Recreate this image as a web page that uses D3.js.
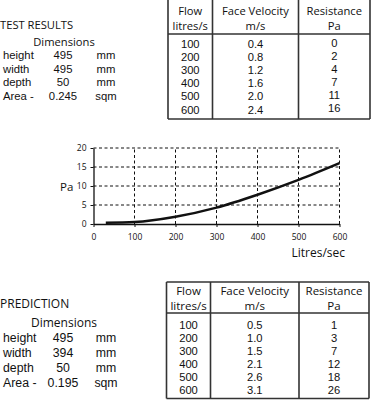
<!DOCTYPE html>
<html><head><meta charset="utf-8">
<script src="https://cdn.jsdelivr.net/npm/d3@7"></script>
<style>
html,body{margin:0;padding:0;background:#fff;}
svg{display:block;font-family:"Open Sans",sans-serif;}
</style></head>
<body>
<svg id="c" width="372" height="402"></svg>
<script>
// ---- data ----
const flows = [100, 200, 300, 400, 500, 600];
const testVelocity = ["0.4", "0.8", "1.2", "1.6", "2.0", "2.4"];
const testResistance = [0, 2, 4, 7, 11, 16];
const predVelocity = ["0.5", "1.0", "1.5", "2.1", "2.6", "3.1"];
const predResistance = [1, 3, 7, 12, 18, 26];
const testDims = [["height", "495", "mm"], ["width", "495", "mm"], ["depth", "50", "mm"], ["Area -", "0.245", "sqm"]];
const predDims = [["height", "495", "mm"], ["width", "394", "mm"], ["depth", "50", "mm"], ["Area -", "0.195", "sqm"]];
const curveFlow = [30, 100, 200, 300, 400, 500, 600];
const curvePa = [0.3, 0.5, 1.9, 4.3, 7.7, 11.6, 16];
const xTicks = [0, 100, 200, 300, 400, 500, 600];
const yTicks = [0, 5, 10, 15, 20];

const svg = d3.select("#c");
const ink = "#111";
const arial = "Liberation Sans, Arial, sans-serif";

function block(o) {
  const g = svg.append("g");
  g.append("text").attr("x", 0).attr("y", o.titleY).attr("font-size", o.fs).attr("fill", ink).text(o.title);
  g.append("text").attr("x", 64).attr("y", o.titleY + o.dimGap).attr("font-size", o.fs).attr("text-anchor", "middle").attr("fill", ink).text("Dimensions");
  o.dims.forEach((d, i) => {
    const y = o.titleY + o.dimGap + o.rowGap * (i + 1);
    const add = (xx, s, anchor) => g.append("text").attr("x", xx).attr("y", y).attr("font-size", o.dfs)
      .attr("font-family", arial).attr("text-anchor", anchor).attr("fill", ink).text(s);
    add(3, d[0], "start");
    add(63, d[1], "middle");
    add(106, d[2], "middle");
  });
  // table
  const t = o.table;
  const cols = [t.x0, t.x1, t.x2, t.x3];
  const lineC = "#333";
  if (t.top != null) g.append("line").attr("x1", t.x0).attr("x2", t.x3).attr("y1", t.top).attr("y2", t.top).attr("stroke", lineC).attr("stroke-width", 1.6);
  const top = t.top == null ? 0 : t.top;
  cols.forEach(x => g.append("line").attr("x1", x).attr("x2", x).attr("y1", top).attr("y2", t.bottom).attr("stroke", lineC).attr("stroke-width", 1.6));
  [t.head, t.bottom].forEach(y => g.append("line").attr("x1", t.x0).attr("x2", t.x3).attr("y1", y).attr("y2", y).attr("stroke", lineC).attr("stroke-width", 1.6));
  const cx = [(t.x0 + t.x1) / 2, (t.x1 + t.x2) / 2, (t.x2 + t.x3) / 2];
  const heads = [["Flow", "litres/s"], ["Face Velocity", "m/s"], ["Resistance", "Pa"]];
  heads.forEach((h, i) => {
    g.append("text").attr("x", cx[i]).attr("y", t.h1).attr("font-size", t.fs).attr("text-anchor", "middle").attr("fill", ink).text(h[0]);
    g.append("text").attr("x", cx[i]).attr("y", t.h2).attr("font-size", t.fs).attr("text-anchor", "middle").attr("fill", ink).text(h[1]);
  });
  flows.forEach((f, i) => {
    const y = t.r0 + t.rg * i;
    const add = (xx, yy, s) => g.append("text").attr("x", xx).attr("y", yy).attr("font-size", t.dfs)
      .attr("font-family", arial).attr("text-anchor", "middle").attr("fill", ink).text(s);
    add(cx[0], y, f);
    add(cx[1], y, o.vel[i]);
    add(cx[2], y + t.resOff, o.res[i]);
  });
}

block({
  title: "TEST RESULTS", titleY: 29, dimGap: 17, rowGap: 13.4, fs: 11.2, dfs: 11.3, dims: testDims,
  vel: testVelocity, res: testResistance,
  table: { x0: 168, x1: 212.5, x2: 298.5, x3: 370, top: null, head: 34, bottom: 119,
    h1: 15, h2: 30, r0: 48, rg: 13.1, resOff: -1.5, fs: 11.2, dfs: 11.2 }
});
block({
  title: "PREDICTION", titleY: 308, dimGap: 19, rowGap: 15, fs: 12, dfs: 12.3, dims: predDims,
  vel: predVelocity, res: predResistance,
  table: { x0: 166.5, x1: 210.5, x2: 299, x3: 369, top: 282, head: 313, bottom: 398.5,
    h1: 295, h2: 310, r0: 328.5, rg: 13.1, resOff: 0, fs: 11.5, dfs: 11.2 }
});

// ---- chart ----
const x = d3.scaleLinear().domain([0, 600]).range([93.5, 339.5]);
const y = d3.scaleLinear().domain([0, 20]).range([224, 148]);
const cg = svg.append("g");

// grid
cg.selectAll(".vg").data(xTicks.filter(d => d > 0)).enter().append("line")
  .attr("x1", d => x(d)).attr("x2", d => x(d)).attr("y1", y(0)).attr("y2", y(20))
  .attr("stroke", ink).attr("stroke-width", 1).attr("stroke-dasharray", "3,2.5");
cg.selectAll(".hg").data(yTicks.filter(d => d > 0)).enter().append("line")
  .attr("x1", x(0)).attr("x2", x(600)).attr("y1", d => y(d)).attr("y2", d => y(d))
  .attr("stroke", ink).attr("stroke-width", 1).attr("stroke-dasharray", "3,2.5");

const xAxis = cg.append("g").attr("transform", `translate(0,${y(0)})`)
  .call(d3.axisBottom(x).tickValues(xTicks).tickSize(3).tickSizeOuter(0).tickPadding(7));
const yAxis = cg.append("g").attr("transform", `translate(${x(0)},0)`)
  .call(d3.axisLeft(y).tickValues(yTicks).tickSize(3).tickSizeOuter(0).tickPadding(4));
[xAxis, yAxis].forEach(a => {
  a.select(".domain").attr("stroke", ink).attr("stroke-width", 1.3);
  a.selectAll(".tick line").attr("stroke", ink);
  a.selectAll(".tick text").attr("font-family", "Open Sans, sans-serif").attr("font-size", 8.5).attr("fill", ink);
});

cg.append("path").datum(curveFlow.map((f, i) => [f, curvePa[i]]))
  .attr("d", d3.line().x(d => x(d[0])).y(d => y(d[1])).curve(d3.curveMonotoneX))
  .attr("fill", "none").attr("stroke", ink).attr("stroke-width", 2.5);

cg.append("text").attr("x", 60).attr("y", 191).attr("font-size", 11.5).attr("fill", ink).text("Pa");
cg.append("text").attr("x", 345).attr("y", 257).attr("font-size", 12).attr("text-anchor", "end").attr("fill", ink).text("Litres/sec");
</script>
</body></html>
